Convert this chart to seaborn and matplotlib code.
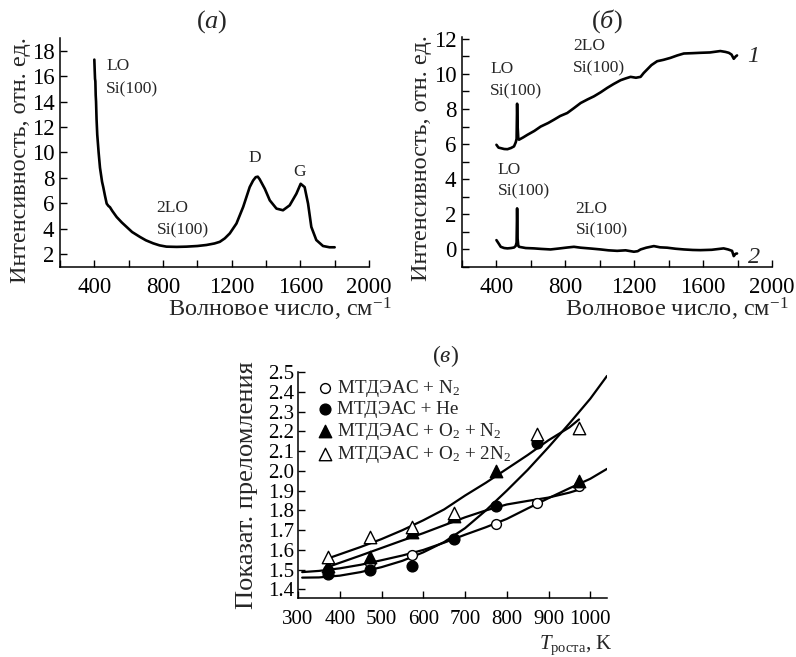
import matplotlib
matplotlib.use("Agg")
import matplotlib.pyplot as plt
import seaborn as sns
from matplotlib.ticker import MultipleLocator

# ---------------- data: panel (а) ----------------
wn_a = [400, 402, 404, 406, 408, 410, 413, 417, 425, 433, 445, 452, 462, 472, 482, 491,
        505, 530, 560, 588, 620, 665, 700, 743, 780, 820, 880, 937, 1000, 1053, 1100,
        1131, 1160, 1189, 1228, 1267, 1305, 1325, 1340, 1352, 1363, 1393, 1422, 1461,
        1499, 1538, 1577, 1602, 1625, 1645, 1664, 1693, 1732, 1770, 1800]
int_a = [17.3, 16.5, 15.8, 15.6, 14.5, 14.0, 12.6, 11.4, 10.0, 8.8, 7.7, 7.28, 6.6, 5.98, 5.8, 5.7,
         5.4, 4.93, 4.5, 4.15, 3.75, 3.37, 3.1, 2.86, 2.7, 2.6, 2.58, 2.6, 2.65, 2.73, 2.85,
         2.98, 3.25, 3.64, 4.42, 5.72, 7.28, 7.8, 8.06, 8.1, 7.9, 7.15, 6.24, 5.59,
         5.46, 5.85, 6.76, 7.54, 7.28, 5.98, 4.15, 3.12, 2.65, 2.55, 2.55]

# ---------------- data: panel (б) ----------------
wn_b1 = [400, 412, 425, 445, 464, 485, 502, 512, 517, 520, 523, 527, 531, 555, 580, 620, 657,
         700, 734, 770, 811, 850, 889, 930, 966, 1005, 1043, 1080, 1121, 1150, 1179, 1210,
         1237, 1255, 1275, 1300, 1333, 1370, 1410, 1450, 1488, 1540, 1584, 1640, 1700, 1730,
         1749, 1765, 1778, 1790, 1797]
int_b1 = [5.96, 5.8, 5.77, 5.72, 5.71, 5.78, 5.87, 6.1, 6.3, 8.3, 7.0, 6.3, 6.25, 6.38, 6.53, 6.75, 7.0,
          7.2, 7.39, 7.6, 7.77, 8.05, 8.34, 8.55, 8.72, 8.95, 9.2, 9.42, 9.64, 9.74, 9.83, 9.78,
          9.83, 10.05, 10.25, 10.5, 10.72, 10.8, 10.91, 11.05, 11.16, 11.18, 11.2, 11.22, 11.3, 11.25,
          11.2, 11.1, 10.86, 11.0, 11.05]
wn_b2 = [400, 412, 425, 445, 464, 485, 502, 512, 517, 520, 523, 527, 531, 570, 618, 660, 714, 760,
         811, 850, 889, 950, 1005, 1050, 1101, 1150, 1198, 1220, 1237, 1270, 1314, 1350, 1391,
         1440, 1488, 1540, 1584, 1650, 1719, 1745, 1768, 1778, 1788, 1797]
int_b2 = [0.53, 0.35, 0.15, 0.08, 0.06, 0.08, 0.11, 0.2, 0.4, 2.34, 0.6, 0.2, 0.15, 0.08, 0.06, 0.03, 0.0, 0.05,
          0.11, 0.15, 0.1, 0.05, 0.0, -0.05, -0.08, -0.05, -0.13, -0.1, 0.0, 0.1, 0.19, 0.12, 0.1,
          0.04, 0.0, -0.03, -0.04, -0.02, 0.06, 0.0, -0.08, -0.38, -0.25, -0.23]

# ---------------- data: panel (в) ----------------
T_N2 = [373, 473, 573, 773, 873, 973]
n_N2 = [1.50, 1.535, 1.575, 1.73, 1.835, 1.925]
T_He = [373, 473, 573, 673, 773, 873]
n_He = [1.48, 1.50, 1.52, 1.655, 1.82, 2.14]
T_O2N2 = [373, 473, 573, 673, 773, 973]
n_O2N2 = [1.52, 1.563, 1.69, 1.77, 2.00, 1.95]
T_O22N2 = [373, 473, 573, 673, 873, 973]
n_O22N2 = [1.565, 1.665, 1.715, 1.785, 2.185, 2.215]

fitS_T = [310, 350, 400, 450, 500, 550, 600, 650, 700, 750, 800, 850, 900, 950, 1000, 1040]
fitS_n = [1.460, 1.461, 1.470, 1.488, 1.513, 1.545, 1.588, 1.640, 1.710, 1.800, 1.900, 2.005,
          2.120, 2.240, 2.365, 2.480]
fitTop_T = [373, 400, 450, 500, 550, 600, 650, 700, 750, 800, 850, 900, 950, 973]
fitTop_n = [1.558, 1.578, 1.615, 1.655, 1.70, 1.75, 1.805, 1.875, 1.94, 2.01, 2.08, 2.155, 2.22, 2.26]
fitL1_T = [310, 350, 400, 450, 500, 550, 600, 650, 700, 750, 800, 850, 900, 950, 1000, 1040]
fitL1_n = [1.488, 1.494, 1.507, 1.525, 1.548, 1.572, 1.60, 1.637, 1.677, 1.715, 1.757, 1.81,
           1.862, 1.912, 1.96, 2.01]
fitL2_T = [373, 400, 450, 500, 550, 600, 650, 700, 750, 800, 850, 900, 950, 973]
fitL2_n = [1.515, 1.535, 1.572, 1.61, 1.648, 1.685, 1.725, 1.765, 1.80, 1.83, 1.848, 1.865, 1.89, 1.905]

legend_labels = ["МТДЭАС + N$_2$", "МТДЭАС + He", "МТДЭАС + O$_2$ + N$_2$", "МТДЭАС + O$_2$ + 2N$_2$"]

# ---------------- style ----------------
sns.set_theme(style="ticks")
plt.rcParams["font.family"] = ["Liberation Serif", "DejaVu Serif"]
plt.rcParams["mathtext.fontset"] = "custom"
plt.rcParams["mathtext.rm"] = "Liberation Serif"
plt.rcParams["mathtext.it"] = "Liberation Serif:italic"
plt.rcParams["axes.linewidth"] = 1.1
plt.rcParams["axes.edgecolor"] = "black"

fig = plt.figure(figsize=(7.96, 6.57), dpi=100)
W, H = 796.0, 657.0

def add_ax(l, r, t, b):
    return fig.add_axes([l / W, 1 - b / H, (r - l) / W, (b - t) / H])

ax_a = add_ax(60, 369, 38, 267)
ax_b = add_ax(462, 772, 37, 267)
ax_c = add_ax(298, 607, 372, 598)

lw = 1.9
TICK = 16.5
LAB = 17.5
ANN = 12.5

def style_axis(ax, labelsize):
    sns.despine(ax=ax)
    ax.tick_params(which="both", direction="in", length=5, width=1.0, colors="black",
                   labelsize=labelsize, pad=5)
    for s in ax.spines.values():
        s.set_color("black")

# ---- panel а ----
sns.lineplot(x=wn_a, y=int_a, ax=ax_a, color="black", lw=lw, sort=False, estimator=None)
ax_a.set_xlim(200, 2000)
ax_a.set_ylim(1, 19)
ax_a.xaxis.set_major_locator(MultipleLocator(400))
ax_a.xaxis.set_minor_locator(MultipleLocator(200))
ax_a.set_yticks([2, 4, 6, 8, 10, 12, 14, 16, 18])
style_axis(ax_a, TICK)
ax_a.tick_params(axis="x", pad=7)
ax_a.tick_params(axis="y", pad=4)
ax_a.set_xlabel("Волновое число, см$^{-1}$", fontsize=LAB, ha="right", va="center")
ax_a.xaxis.set_label_coords(1.074, -0.185)
ax_a.set_ylabel("Интенсивность, отн. ед.", fontsize=LAB, va="center")
ax_a.yaxis.set_label_coords(-0.127, 0.467)
ax_a.text(0.492, 1.07, r"($\mathit{а}$)", transform=ax_a.transAxes, ha="center", va="center", fontsize=19)
ax_a.text(468, 16.8, "LO", fontsize=ANN, va="center")
ax_a.text(468, 14.96, "Si(100)", fontsize=ANN, va="center")
ax_a.text(762, 5.6, "2LO", fontsize=ANN, va="center")
ax_a.text(762, 3.9, "Si(100)", fontsize=ANN, va="center")
ax_a.text(1334, 9.6, "D", fontsize=ANN, ha="center", va="center")
ax_a.text(1596, 8.45, "G", fontsize=ANN, ha="center", va="center")

# ---- panel б ----
sns.lineplot(x=wn_b1, y=int_b1, ax=ax_b, color="black", lw=lw, sort=False, estimator=None)
sns.lineplot(x=wn_b2, y=int_b2, ax=ax_b, color="black", lw=lw, sort=False, estimator=None)
ax_b.set_xlim(200, 2000)
ax_b.set_ylim(-1, 12.1)
ax_b.xaxis.set_major_locator(MultipleLocator(400))
ax_b.xaxis.set_minor_locator(MultipleLocator(200))
ax_b.yaxis.set_major_locator(MultipleLocator(2))
ax_b.yaxis.set_minor_locator(MultipleLocator(1))
style_axis(ax_b, TICK)
ax_b.tick_params(axis="x", pad=7)
ax_b.tick_params(axis="y", pad=4)
ax_b.set_xlabel("Волновое число, см$^{-1}$", fontsize=LAB, ha="right", va="center")
ax_b.xaxis.set_label_coords(1.052, -0.185)
ax_b.set_ylabel("Интенсивность, отн. ед.", fontsize=LAB, va="center")
ax_b.yaxis.set_label_coords(-0.13, 0.474)
ax_b.text(0.468, 1.07, r"($\mathit{б}$)", transform=ax_b.transAxes, ha="center", va="center", fontsize=19)
ax_b.text(363, 10.25, "LO", fontsize=ANN, va="center")
ax_b.text(363, 9.0, "Si(100)", fontsize=ANN, va="center")
ax_b.text(846, 11.6, "2LO", fontsize=ANN, va="center")
ax_b.text(846, 10.34, "Si(100)", fontsize=ANN, va="center")
ax_b.text(406, 4.53, "LO", fontsize=ANN, va="center")
ax_b.text(406, 3.3, "Si(100)", fontsize=ANN, va="center")
ax_b.text(860, 2.29, "2LO", fontsize=ANN, va="center")
ax_b.text(860, 1.1, "Si(100)", fontsize=ANN, va="center")
ax_b.text(1855, 11.0, "1", fontsize=LAB, style="italic", va="center")
ax_b.text(1860, -0.45, "2", fontsize=LAB, style="italic", va="center")

# ---- panel в ----
for tx, ny in [(fitS_T, fitS_n), (fitTop_T, fitTop_n), (fitL1_T, fitL1_n), (fitL2_T, fitL2_n)]:
    sns.lineplot(x=tx, y=ny, ax=ax_c, color="black", lw=1.6, sort=False, estimator=None)

sns.scatterplot(x=T_N2, y=n_N2, ax=ax_c, marker="o", s=50, facecolor="white",
                edgecolor="black", linewidth=1.0, label=legend_labels[0], zorder=3)
sns.scatterplot(x=T_He, y=n_He, ax=ax_c, marker="o", s=60, color="black",
                edgecolor="black", linewidth=1.0, label=legend_labels[1], zorder=3)
sns.scatterplot(x=T_O2N2, y=n_O2N2, ax=ax_c, marker="^", s=80, color="black",
                edgecolor="black", linewidth=1.0, label=legend_labels[2], zorder=3)
sns.scatterplot(x=T_O22N2, y=n_O22N2, ax=ax_c, marker="^", s=80, facecolor="white",
                edgecolor="black", linewidth=1.0, label=legend_labels[3], zorder=4)

ax_c.set_xlim(300, 1040)
ax_c.set_ylim(1.357, 2.5)
ax_c.xaxis.set_major_locator(MultipleLocator(100))
yt = [1.4, 1.5, 1.6, 1.7, 1.8, 1.9, 2.0, 2.1, 2.2, 2.3, 2.4, 2.5]
ax_c.set_yticks(yt)
ax_c.set_yticklabels([f"{v:.1f}" for v in yt])
style_axis(ax_c, 15)
ax_c.tick_params(axis="y", pad=3)
ax_c.tick_params(axis="x", pad=9)
ax_c.set_xlabel(r"$\mathit{T}_{\mathrm{роста}}$, K", fontsize=15, ha="right", va="center")
ax_c.xaxis.set_label_coords(1.016, -0.21)
ax_c.set_ylabel("Показат. преломления", fontsize=19, va="center")
ax_c.yaxis.set_label_coords(-0.165, 0.5)
ax_c.text(0.476, 1.07, r"($\mathit{в}$)", transform=ax_c.transAxes, ha="center", va="center", fontsize=17)
ax_c.legend(loc="upper left", bbox_to_anchor=(0.062, 0.975), frameon=False, fontsize=13.8,
            handlelength=0.8, handletextpad=0.25, labelspacing=0.12, borderpad=0, borderaxespad=0)

fig.savefig("out.png", dpi=100)
